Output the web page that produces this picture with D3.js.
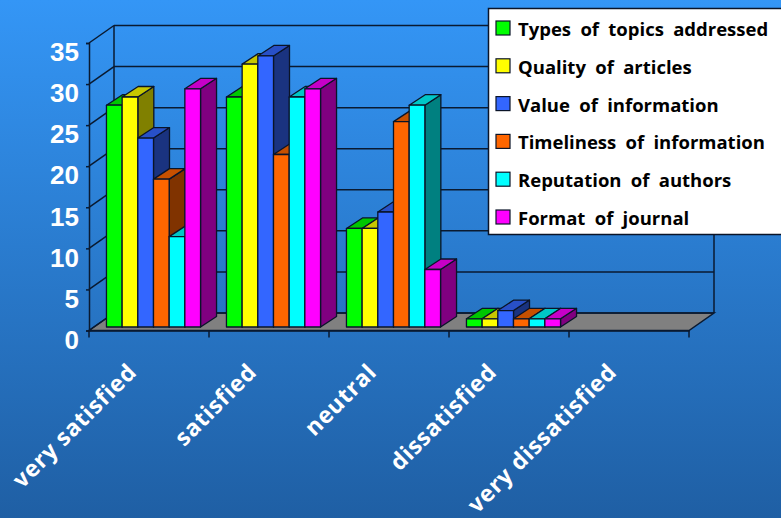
<!DOCTYPE html>
<html><head><meta charset="utf-8">
<script src="https://cdnjs.cloudflare.com/ajax/libs/d3/7.8.5/d3.min.js"></script>
<style>html,body{margin:0;padding:0;overflow:hidden;background:#2a70bb}svg{display:block}</style>
</head><body><svg id="c" width="781" height="518"></svg>
<script>
const categories = ["very satisfied","satisfied","neutral","dissatisfied","very dissatisfied"];
const seriesNames = ["Types of topics addressed","Quality of articles","Value of information","Timeliness of information","Reputation of authors","Format of journal"];
const seriesColors = ["#00ff00","#ffff00","#3366ff","#ff6600","#00ffff","#ff00ff"];
const topicsValues = [27,28,12,1,0];
const qualityValues = [28,32,12,1,0];
const valueValues = [23,33,14,2,0];
const timelinessValues = [18,21,25,1,0];
const reputationValues = [11,28,27,1,0];
const formatValues = [29,29,7,1,0];
const seriesValues = [topicsValues,qualityValues,valueValues,timelinessValues,reputationValues,formatValues];
const yTicks = [0,5,10,15,20,25,30,35];

const svg = d3.select("#c");
const defs = svg.append("defs");
const g = defs.append("linearGradient").attr("id","bg").attr("x1",0).attr("x2",0).attr("y1",0).attr("y2",1);
g.append("stop").attr("offset",0).attr("stop-color","#3496f6");
g.append("stop").attr("offset",1).attr("stop-color","#1f5fa4");
svg.append("rect").attr("width",781).attr("height",518).attr("fill","url(#bg)");

const y = d3.scaleLinear().domain([0,35]).range([330.5,43]);
const x = d3.scaleBand().domain(categories).range([89,689]).paddingInner(0.216).paddingOuter(0.108);
const xCat = d3.scaleBand().domain(categories).range([89,689]);
const xs = d3.scaleBand().domain(d3.range(6)).range([0,x.bandwidth()]);
const dx = 25, dy = -17.5;         // wall depth
const bx = 4.5, by = -3.5;         // bar front offset
const bdx = 16, bdy = -10.5;       // bar depth
const ink = "#0a1a30";

// floor
svg.append("path").attr("d",`M${x.range()[0]},${y(0)}L689,${y(0)}L${689+dx},${y(0)+dy}L${89+dx},${y(0)+dy}Z`)
  .attr("fill","#808080").attr("stroke",ink).attr("stroke-width",1.5);

// walls and grid
const grid = svg.append("g").attr("fill","none").attr("stroke",ink).attr("stroke-width",1.5);
yTicks.forEach(t=>{
  grid.append("line").attr("x1",89).attr("x2",89+dx).attr("y1",y(t)).attr("y2",y(t)+dy);
  grid.append("line").attr("x1",89+dx).attr("x2",689+dx).attr("y1",y(t)+dy).attr("y2",y(t)+dy);
});
grid.append("line").attr("x1",89+dx).attr("x2",89+dx).attr("y1",y(0)+dy).attr("y2",y(35)+dy);
grid.append("line").attr("x1",689+dx).attr("x2",689+dx).attr("y1",y(0)+dy).attr("y2",y(35)+dy);

// bars
const bars = svg.append("g").attr("stroke","#0a1428").attr("stroke-width",1.3).attr("stroke-linejoin","round");
categories.forEach((cat,ci)=>{
  seriesValues.forEach((vals,si)=>{
    const v = vals[ci];
    if(!v) return;
    const x0 = x(cat)+xs(si)+bx, x1 = x0+xs.bandwidth();
    const yb = y(0)+by, yt = y(v)+by;
    const c = seriesColors[si];
    const top = d3.color(c); 
    bars.append("path").attr("d",`M${x1},${yb}L${x1+bdx},${yb+bdy}L${x1+bdx},${yt+bdy}L${x1},${yt}Z`)
      .attr("fill",d3.rgb(top.r*.5,top.g*.5,top.b*.5));
    bars.append("path").attr("d",`M${x0},${yt}L${x0+bdx},${yt+bdy}L${x1+bdx},${yt+bdy}L${x1},${yt}Z`)
      .attr("fill",d3.rgb(top.r*.78,top.g*.78,top.b*.78));
    bars.append("rect").attr("x",x0).attr("y",yt).attr("width",x1-x0).attr("height",yb-yt).attr("fill",c);
  });
});

// axes
const ay = svg.append("g").attr("transform","translate(89,0)")
  .call(d3.axisLeft(y).tickValues(yTicks).tickSize(3).tickPadding(7));
ay.selectAll("path,line").attr("stroke",ink).attr("stroke-width",1.5);
ay.selectAll("text").attr("fill","#fff").attr("dy","0.72em").attr("y",-1)
  .style("font","bold 26px 'Liberation Sans',Arial,sans-serif");
ay.selectAll("text").attr("x",-10).attr("transform",null);

const ax = svg.append("g").attr("transform",`translate(0,${y(0)})`)
  .call(d3.axisBottom(xCat).tickValues(categories).tickSize(0).tickFormat(""));
ax.select("path").attr("stroke",ink).attr("stroke-width",1.5);
const xTickVals = categories.map(c=>xCat(c)).concat([689]);
svg.append("g").selectAll("line").data(xTickVals).join("line")
  .attr("x1",d=>d).attr("x2",d=>d).attr("y1",y(0)).attr("y2",y(0)+7).attr("stroke",ink).attr("stroke-width",1.5);

svg.append("g").selectAll("text").data(categories).join("text")
  .attr("transform",c=>`translate(${xCat(c)+xCat.bandwidth()*0.5-11},${y(0)+43}) rotate(-45)`)
  .attr("text-anchor","end").attr("fill","#fff").text(c=>c)
  .style("font","bold 23px 'Open Sans',sans-serif").style("letter-spacing","0.7px");

// legend
const lx=488.5, ly=8.5, lw=300, lh=226, step=37.8;
svg.append("rect").attr("x",lx).attr("y",ly).attr("width",lw).attr("height",lh).attr("fill","#fff").attr("stroke","#0a1428").attr("stroke-width",1.5);
const leg = svg.append("g").selectAll("g").data(seriesNames).join("g")
  .attr("transform",(d,i)=>`translate(496,${21+i*step})`);
leg.append("rect").attr("width",14).attr("height",14).attr("fill",(d,i)=>seriesColors[i]).attr("stroke","#0a1428").attr("stroke-width",1.2);
leg.append("text").attr("x",22).attr("y",15).attr("fill","#000").text(d=>d)
  .style("font","bold 18.5px 'Open Sans',sans-serif").style("word-spacing","4.5px");
</script></body></html>
